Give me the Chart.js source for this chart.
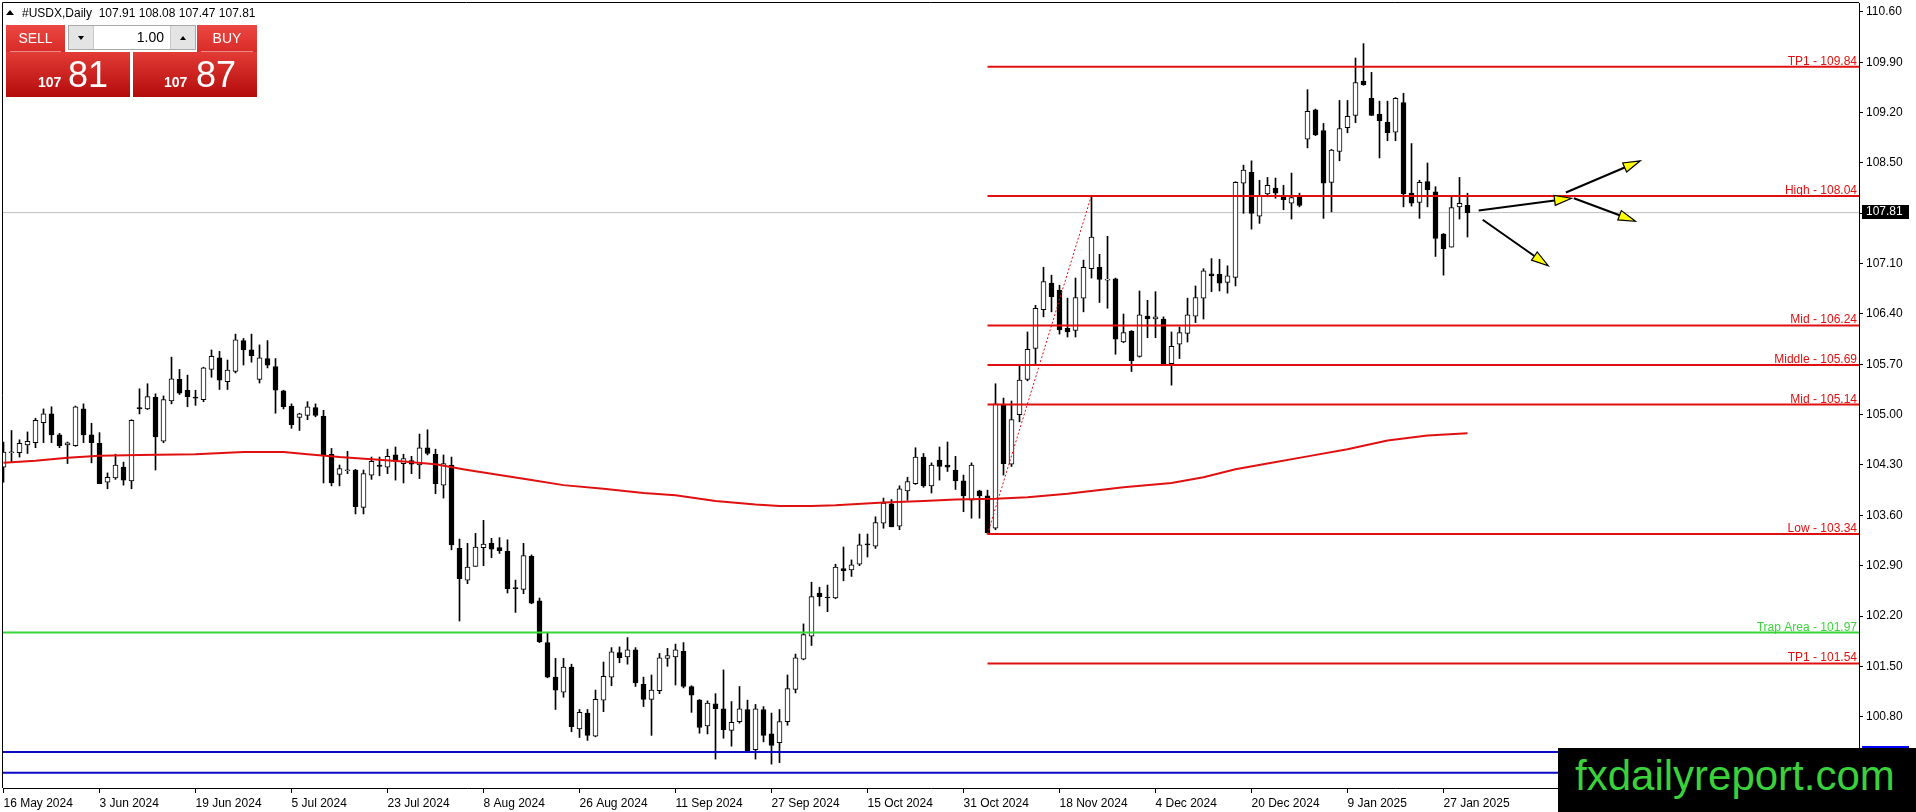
<!DOCTYPE html>
<html lang="en">
<head>
<meta charset="UTF-8">
<title>#USDX, Daily</title>
<script src="https://cdn.jsdelivr.net/npm/chart.js"></script>
<style>
    body {
        margin: 0;
        background: #fff;
        font-family: 'Liberation Sans', Arial, sans-serif;
    }

    .wrap {
        position: relative;
        width: 1916px;
        height: 812px;
        overflow: hidden;
    }

    /* Header line */
    .tri {
        position: absolute;
        left: 6px;
        top: 10px;
        width: 0;
        height: 0;
        border-left: 4px solid transparent;
        border-right: 4px solid transparent;
        border-bottom: 5px solid #000;
    }

    .hdr {
        position: absolute;
        left: 22px;
        top: 6px;
        font-size: 12px;
        white-space: pre;
        color: #000;
    }

    /* One-click trading panel */
    .btn {
        position: absolute;
        top: 25px;
        height: 27px;
        background: linear-gradient(#ec4843, #d82b28);
        color: #fff;
        font-size: 14px;
        text-align: center;
        line-height: 27px;
    }
    .btn::after {
        content: '';
        position: absolute;
        left: 4px;
        right: 4px;
        bottom: 0;
        height: 1px;
        background: rgba(255, 255, 255, 0.45);
    }
    .sell { left: 6px; width: 59px; }
    .buy { left: 197px; width: 60px; }

    .spin {
        position: absolute;
        left: 68px;
        top: 25px;
        width: 126px;
        height: 23px;
        border: 1px solid #a9a9a9;
        background: #fff;
    }
    .spin .dn, .spin .up {
        position: absolute;
        top: 0;
        width: 24px;
        height: 23px;
        background: #e4e4e4;
    }
    .spin .dn { left: 0; border-right: 1px solid #c8c8c8; }
    .spin .up { right: 0; border-left: 1px solid #c8c8c8; }
    .spin .dn::after, .spin .up::after {
        content: '';
        position: absolute;
        left: 9px;
        top: 10px;
        border-left: 3px solid transparent;
        border-right: 3px solid transparent;
    }
    .spin .dn::after { border-top: 4px solid #000; }
    .spin .up::after { border-bottom: 4px solid #000; }
    .spin .val {
        position: absolute;
        right: 31px;
        top: 0;
        line-height: 23px;
        font-size: 14px;
    }

    .price {
        position: absolute;
        top: 52px;
        width: 124px;
        height: 45px;
        background: linear-gradient(#e33c36, #b20b0b);
        color: #fff;
    }
    .price.l { left: 6px; }
    .price.r { left: 133px; }
    .price .small {
        position: absolute;
        top: 22px;
        font-size: 14px;
        font-weight: bold;
    }
    .price .big {
        position: absolute;
        top: 2px;
        font-size: 36px;
    }

    /* Watermark */
    .wm {
        position: absolute;
        left: 1558px;
        top: 748px;
        width: 358px;
        height: 64px;
        box-sizing: border-box;
        padding-left: 17px;
        background: #000;
        color: #3ad13a;
        font-size: 42px;
        line-height: 56px;
    }
</style>
</head>
<body>
<div class="wrap">
    <canvas id="chart"></canvas>

    <div class="tri"></div>
    <div class="hdr">#USDX,Daily  107.91 108.08 107.47 107.81</div>

    <div class="btn sell">SELL</div>
    <div class="spin">
        <div class="dn"></div>
        <div class="val">1.00</div>
        <div class="up"></div>
    </div>
    <div class="btn buy">BUY</div>

    <div class="price l"><span class="small" style="left:32px">107</span><span class="big" style="left:62px">81</span></div>
    <div class="price r"><span class="small" style="left:31px">107</span><span class="big" style="left:63px">87</span></div>

    <div class="wm">fxdailyreport.com</div>
</div>

<script>
    // ---- data (daily bars, index 0 = 16 May 2024) ----
    const dateLabels = ['16 May 2024', '3 Jun 2024', '19 Jun 2024', '5 Jul 2024', '23 Jul 2024', '8 Aug 2024',
        '26 Aug 2024', '11 Sep 2024', '27 Sep 2024', '15 Oct 2024', '31 Oct 2024', '18 Nov 2024',
        '4 Dec 2024', '20 Dec 2024', '9 Jan 2025', '27 Jan 2025'];
    const dateBars = [0, 12, 24, 36, 48, 60, 72, 84, 96, 108, 120, 132, 144, 156, 168, 180];

    const priceTicks = [110.60, 109.90, 109.20, 108.50, 107.80, 107.10, 106.40, 105.70, 105.00,
        104.30, 103.60, 102.90, 102.20, 101.50, 100.80, 100.10];

    const opens = [
        104.27, 104.47, 104.47, 104.58, 104.61, 104.89, 105.01, 104.72, 104.58, 104.57,
        105.08, 104.72, 104.60, 104.06, 104.12, 104.27, 104.08, 105.10, 105.08, 105.24,
        104.63, 105.19, 105.49, 105.34, 105.24, 105.21, 105.63, 105.79, 105.46, 105.60,
        106.03, 105.90, 105.49, 105.78, 105.67, 105.33, 105.12, 104.96, 104.99, 105.10,
        104.98, 104.45, 104.17, 104.22, 104.23, 103.71, 104.16, 104.30, 104.27, 104.44,
        104.32, 104.36, 104.30, 104.54, 104.45, 104.02, 104.30, 103.14, 102.70, 102.89,
        103.15, 103.21, 103.15, 103.10, 102.59, 102.57, 103.03, 102.41, 101.83, 101.35,
        101.14, 101.49, 100.63, 100.85, 100.53, 101.03, 101.35, 101.69, 101.63, 101.73,
        101.25, 101.04, 101.16, 101.61, 101.63, 101.71, 101.22, 101.03, 100.67, 100.98,
        100.91, 100.61, 100.73, 100.90, 100.34, 100.90, 100.56, 100.44, 100.73, 101.18,
        101.60, 101.92, 102.52, 102.46, 102.45, 102.86, 102.84, 102.92, 103.20, 103.17,
        103.49, 103.76, 103.45, 103.94, 104.04, 104.41, 104.01, 104.37, 104.30, 104.23,
        104.08, 103.81, 103.94, 103.87, 103.42, 105.13, 104.31, 105.00, 105.49, 105.92,
        106.46, 106.83, 106.73, 106.20, 106.17, 106.62, 107.03, 107.05, 106.87, 106.89,
        106.01, 106.16, 105.81, 106.37, 106.33, 106.33, 105.71, 105.98, 106.13, 106.37,
        106.62, 106.96, 106.95, 106.84, 106.91, 108.22, 108.37, 107.76, 108.07, 108.15,
        108.05, 107.94, 108.05, 108.83, 109.24, 108.95, 108.23, 108.66, 108.99, 109.16,
        109.64, 109.40, 109.18, 109.07, 108.93, 109.34, 108.08, 107.95, 108.24, 108.10,
        107.51, 107.33, 107.89, 107.91];

    const highs = [
        104.62, 104.78, 104.65, 104.76, 104.95, 105.08, 105.11, 104.74, 104.62, 105.12,
        105.15, 104.88, 104.75, 104.19, 104.45, 104.34, 104.93, 105.36, 105.43, 105.29,
        105.26, 105.80, 105.63, 105.55, 105.34, 105.66, 105.90, 105.88, 105.76, 106.12,
        106.06, 106.12, 105.97, 106.03, 105.78, 105.34, 105.15, 105.02, 105.18, 105.15,
        105.06, 104.53, 104.30, 104.49, 104.24, 104.23, 104.41, 104.41, 104.52, 104.55,
        104.45, 104.42, 104.73, 104.79, 104.52, 104.44, 104.41, 103.27, 103.21, 103.35,
        103.53, 103.28, 103.29, 103.26, 102.70, 103.21, 103.05, 102.45, 101.96, 101.61,
        101.61, 101.53, 100.90, 100.90, 101.17, 101.56, 101.76, 101.77, 101.90, 101.76,
        101.35, 101.38, 101.68, 101.75, 101.81, 101.83, 101.23, 101.04, 101.02, 101.12,
        101.45, 101.01, 101.22, 101.03, 100.97, 100.94, 100.85, 100.90, 101.38, 101.67,
        102.09, 102.67, 102.60, 102.63, 102.92, 103.16, 102.98, 103.34, 103.34, 103.58,
        103.84, 103.82, 104.01, 104.13, 104.54, 104.46, 104.33, 104.55, 104.62, 104.42,
        104.16, 104.33, 103.95, 103.95, 105.43, 105.23, 105.19, 105.69, 106.15, 106.52,
        107.05, 106.94, 106.80, 106.62, 106.90, 107.15, 108.05, 107.23, 107.48, 106.90,
        106.40, 106.17, 106.72, 106.59, 106.71, 106.36, 106.15, 106.22, 106.62, 106.79,
        107.03, 107.17, 107.16, 107.07, 108.24, 108.47, 108.53, 108.26, 108.30, 108.29,
        108.19, 108.36, 108.08, 109.52, 109.25, 109.05, 108.69, 109.37, 109.37, 109.96,
        110.16, 109.76, 109.36, 109.36, 109.41, 109.47, 108.77, 108.26, 108.50, 108.17,
        107.52, 108.05, 108.30, 108.08];

    const lows = [
        104.06, 104.34, 104.41, 104.46, 104.54, 104.61, 104.61, 104.54, 104.32, 104.56,
        104.61, 104.33, 104.04, 103.97, 104.10, 104.02, 103.97, 105.01, 105.07, 104.23,
        104.61, 105.15, 105.28, 105.11, 105.13, 105.18, 105.52, 105.35, 105.35, 105.58,
        105.69, 105.73, 105.44, 105.65, 105.02, 105.08, 104.81, 104.78, 104.93, 104.97,
        104.05, 104.01, 104.01, 104.18, 103.62, 103.62, 104.10, 104.15, 104.18, 104.09,
        104.05, 104.18, 104.11, 104.44, 103.90, 103.84, 103.12, 102.13, 102.65, 102.89,
        102.90, 103.01, 103.07, 102.52, 102.25, 102.51, 102.37, 101.83, 101.34, 100.90,
        101.07, 100.59, 100.51, 100.47, 100.52, 100.87, 101.23, 101.55, 101.53, 101.22,
        100.94, 100.54, 101.12, 101.50, 101.24, 101.20, 100.86, 100.57, 100.56, 100.21,
        100.50, 100.39, 100.71, 100.31, 100.21, 100.45, 100.14, 100.16, 100.68, 101.13,
        101.59, 101.79, 102.34, 102.26, 102.44, 102.69, 102.75, 102.90, 103.02, 103.14,
        103.42, 103.44, 103.40, 103.81, 104.03, 103.99, 103.91, 104.09, 104.21, 103.96,
        103.65, 103.56, 103.56, 103.34, 103.40, 104.16, 104.28, 104.90, 105.47, 105.71,
        106.36, 106.43, 106.12, 106.08, 106.08, 106.43, 106.90, 106.56, 106.48, 105.84,
        106.00, 105.60, 105.80, 106.07, 106.07, 105.69, 105.41, 105.78, 106.01, 106.28,
        106.33, 106.71, 106.72, 106.69, 106.79, 107.80, 107.58, 107.66, 108.03, 108.01,
        107.85, 107.72, 107.89, 108.71, 108.88, 107.73, 107.82, 108.53, 108.92, 109.06,
        109.58, 109.16, 108.57, 108.81, 108.81, 107.89, 107.90, 107.73, 107.89, 107.20,
        106.94, 107.33, 107.72, 107.47];

    const closes = [
        104.48, 104.48, 104.60, 104.63, 104.92, 105.01, 104.72, 104.57, 104.61, 105.11,
        104.72, 104.61, 104.04, 104.13, 104.30, 104.09, 104.92, 105.08, 105.25, 104.69,
        105.21, 105.50, 105.30, 105.25, 105.23, 105.65, 105.81, 105.48, 105.62, 106.04,
        105.90, 105.82, 105.79, 105.69, 105.34, 105.11, 104.86, 105.01, 105.11, 104.99,
        104.44, 104.05, 104.25, 104.23, 103.72, 104.18, 104.35, 104.28, 104.42, 104.35,
        104.39, 104.31, 104.54, 104.46, 104.04, 104.32, 103.19, 102.72, 102.88, 103.16,
        103.20, 103.13, 103.11, 102.58, 102.58, 103.04, 102.38, 101.84, 101.35, 101.17,
        101.49, 100.66, 100.86, 100.54, 101.04, 101.36, 101.70, 101.62, 101.73, 101.27,
        101.04, 101.17, 101.62, 101.65, 101.73, 101.22, 101.10, 100.65, 100.99, 100.91,
        100.62, 100.72, 100.91, 100.32, 100.91, 100.54, 100.40, 100.73, 101.19, 101.62,
        101.94, 102.47, 102.47, 102.45, 102.88, 102.83, 102.91, 103.19, 103.19, 103.50,
        103.77, 103.44, 103.97, 104.07, 104.41, 104.01, 104.30, 104.28, 104.27, 104.08,
        103.87, 104.30, 103.87, 103.36, 105.15, 104.32, 104.93, 105.48, 105.91, 106.48,
        106.85, 106.64, 106.18, 106.15, 106.63, 107.05, 107.47, 106.88, 106.87, 106.05,
        106.14, 105.75, 106.39, 106.33, 106.36, 105.71, 105.95, 106.14, 106.39, 106.63,
        107.00, 106.93, 106.83, 106.93, 108.23, 108.40, 107.80, 108.05, 108.19, 108.08,
        107.99, 108.02, 107.91, 109.22, 108.89, 108.22, 108.68, 108.98, 109.15, 109.62,
        109.59, 109.16, 109.09, 108.92, 109.40, 108.07, 107.94, 108.23, 108.13, 107.45,
        107.31, 107.88, 107.94, 107.81];

    // moving average
    const maBars = [0, 4, 8, 12, 17, 24, 30, 35, 38, 42, 46, 50, 54, 58, 62, 66, 70, 75, 80, 84,
        89, 94, 97, 101, 104, 110, 115, 119, 124, 128, 133, 140, 146, 150, 154, 158, 163, 168, 173, 178, 183];
    const maValues = [104.33, 104.36, 104.40, 104.43, 104.44, 104.45, 104.48, 104.48, 104.45, 104.41,
        104.38, 104.35, 104.31, 104.23, 104.16, 104.09, 104.02, 103.97, 103.91, 103.88,
        103.80, 103.75, 103.73, 103.73, 103.74, 103.78, 103.80, 103.82, 103.83, 103.85,
        103.90, 103.99, 104.05, 104.13, 104.24, 104.32, 104.42, 104.52, 104.64, 104.71, 104.74];

    // drawn levels
    const levelNames = ['TP1', 'High', 'Mid', 'Middle', 'Mid', 'Low', 'TP1'];
    const levelValues = [109.84, 108.04, 106.24, 105.69, 105.14, 103.34, 101.54];
    const levelStartBar = 123;
    const trapName = 'Trap Area';
    const trapValue = 101.97;
    const zoneValues = [100.31, 100.02];
    const lastPrice = 107.81;

    // dotted swing line and forecast arrows (bar index, price)
    const swingBars = [123, 136];
    const swingValues = [103.34, 108.05];
    const arrowFrom = [[184.4, 107.84], [195.3, 108.09], [196.3, 108.01], [184.9, 107.71]];
    const arrowTo = [[196.0, 108.01], [204.6, 108.53], [204.0, 107.69], [193.1, 107.07]];

    // ---- view ----
    const X_MIN = -0.0625, X_MAX = 231.9375;
    const Y_MIN = 99.808, Y_MAX = 110.725;
    const RED = '#e01010', GREEN = '#39d639', BLUE = '#0a0ac8';

    Chart.defaults.font.family = '"Liberation Sans", Arial, sans-serif';
    Chart.defaults.font.size = 12;
    Chart.defaults.color = '#000';

    const wicks = opens.map((o, i) => ({ x: i, y: [lows[i], highs[i]] }));
    const bodies = opens.map((o, i) => ({ x: i, y: [o, closes[i]] }));
    const flat = (v, from) => [{ x: from, y: v }, { x: X_MAX, y: v }];
    const lineDs = (data, color, width, order, extra) => Object.assign({
        type: 'line', data, borderColor: color, borderWidth: width,
        pointRadius: 0, tension: 0, fill: false, order
    }, extra || {});

    function drawArrow(ctx, x1, y1, x2, y2) {
        const ang = Math.atan2(y2 - y1, x2 - x1);
        const len = 17, half = 5;
        const bx = x2 - len * Math.cos(ang), by = y2 - len * Math.sin(ang);
        ctx.strokeStyle = '#000';
        ctx.lineWidth = 2;
        ctx.beginPath();
        ctx.moveTo(x1, y1);
        ctx.lineTo(bx, by);
        ctx.stroke();
        ctx.beginPath();
        ctx.moveTo(x2, y2);
        ctx.lineTo(bx + half * Math.sin(ang), by - half * Math.cos(ang));
        ctx.lineTo(bx - half * Math.sin(ang), by + half * Math.cos(ang));
        ctx.closePath();
        ctx.fillStyle = '#ffff00';
        ctx.fill();
        ctx.lineWidth = 1.2;
        ctx.stroke();
    }

    const overlay = {
        id: 'overlay',
        beforeDatasetsDraw(chart) {
            const { ctx, chartArea: a } = chart;
            ctx.save();
            ctx.strokeStyle = '#000';
            ctx.lineWidth = 1;
            ctx.beginPath();
            ctx.moveTo(a.left - 0.5, a.bottom);
            ctx.lineTo(a.left - 0.5, a.top - 0.5);
            ctx.lineTo(a.right, a.top - 0.5);
            ctx.stroke();
            ctx.restore();
        },
        afterDatasetsDraw(chart) {
            const { ctx, chartArea: a, scales: { x, y } } = chart;
            ctx.save();
            ctx.font = '12px "Liberation Sans", Arial, sans-serif';
            ctx.textAlign = 'right';
            ctx.textBaseline = 'alphabetic';
            ctx.fillStyle = RED;
            levelValues.forEach((v, i) => {
                ctx.fillText(levelNames[i] + ' - ' + v.toFixed(2), a.right - 2, Math.round(y.getPixelForValue(v)) - 2);
            });
            ctx.fillStyle = GREEN;
            ctx.fillText(trapName + ' - ' + trapValue.toFixed(2), a.right - 2, Math.round(y.getPixelForValue(trapValue)) - 2);

            arrowFrom.forEach((p, i) => {
                drawArrow(ctx,
                    x.getPixelForValue(p[0]), y.getPixelForValue(p[1]),
                    x.getPixelForValue(arrowTo[i][0]), y.getPixelForValue(arrowTo[i][1]));
            });
            ctx.restore();
        },
        afterDraw(chart) {
            const { ctx, chartArea: a, scales: { y } } = chart;
            ctx.save();
            // price tag of the blue zone
            const zy = Math.round(y.getPixelForValue(zoneValues[0]));
            ctx.fillStyle = '#0000ff';
            ctx.fillRect(a.right + 3, zy - 6, 47, 13);
            // current price tag
            const py = Math.round(y.getPixelForValue(lastPrice));
            ctx.fillStyle = '#000';
            ctx.fillRect(a.right + 3, py - 8, 47, 14);
            ctx.fillStyle = '#fff';
            ctx.font = '12px "Liberation Sans", Arial, sans-serif';
            ctx.textAlign = 'left';
            ctx.textBaseline = 'middle';
            ctx.fillText(lastPrice.toFixed(2), a.right + 7, py - 1);
            ctx.restore();
        }
    };

    const noPad = (s) => { s.paddingTop = 0; s.paddingBottom = 0; s.paddingLeft = 0; s.paddingRight = 0; };

    new Chart(document.getElementById('chart'), {
        type: 'line',
        data: {
            datasets: [
                lineDs(flat(lastPrice, X_MIN), '#c0c0c0', 1, 20),
                {
                    type: 'bar', data: wicks, backgroundColor: '#000', borderWidth: 0,
                    barThickness: 1, grouped: false, order: 12
                },
                {
                    type: 'bar', data: bodies, borderColor: '#000', borderWidth: 1, borderSkipped: false,
                    backgroundColor: (c) => (closes[c.dataIndex] >= opens[c.dataIndex] ? '#fff' : '#000'),
                    barThickness: 5, grouped: false, minBarLength: 1, order: 11
                },
                lineDs(maBars.map((b, i) => ({ x: b, y: maValues[i] })), RED, 2, 5),
                ...levelValues.map(v => lineDs(flat(v, levelStartBar), RED, 2, 3)),
                lineDs(flat(trapValue, X_MIN), GREEN, 2, 3),
                ...zoneValues.map(v => lineDs(flat(v, X_MIN), BLUE, 2, 3)),
                lineDs(swingBars.map((b, i) => ({ x: b, y: swingValues[i] })), RED, 1, 2, { borderDash: [2, 2] })
            ]
        },
        options: {
            responsive: true,
            maintainAspectRatio: false,
            animation: false,
            events: [],
            layout: { padding: { left: 3, top: 3, right: 0, bottom: 0 } },
            plugins: { legend: { display: false }, tooltip: { enabled: false } },
            scales: {
                x: {
                    type: 'linear',
                    offset: false,
                    min: X_MIN,
                    max: X_MAX,
                    afterBuildTicks: (s) => { s.ticks = dateBars.map(v => ({ value: v })); },
                    afterFit: (s) => { s.height = 24; noPad(s); },
                    ticks: {
                        autoSkip: false,
                        maxRotation: 0,
                        align: 'start',
                        padding: 3,
                        callback: (v, i) => dateLabels[i]
                    },
                    grid: { offset: false, drawOnChartArea: false, tickLength: 5, color: '#000' },
                    border: { display: true, color: '#000' }
                },
                y: {
                    type: 'linear',
                    position: 'right',
                    min: Y_MIN,
                    max: Y_MAX,
                    afterBuildTicks: (s) => { s.ticks = priceTicks.map(v => ({ value: v })); },
                    afterFit: (s) => { s.width = 57; noPad(s); },
                    ticks: { padding: 3, callback: (v) => v.toFixed(2) },
                    grid: { drawOnChartArea: false, tickLength: 4, color: '#000' },
                    border: { display: true, color: '#000' }
                }
            }
        },
        plugins: [overlay]
    });
</script>
</body>
</html>
